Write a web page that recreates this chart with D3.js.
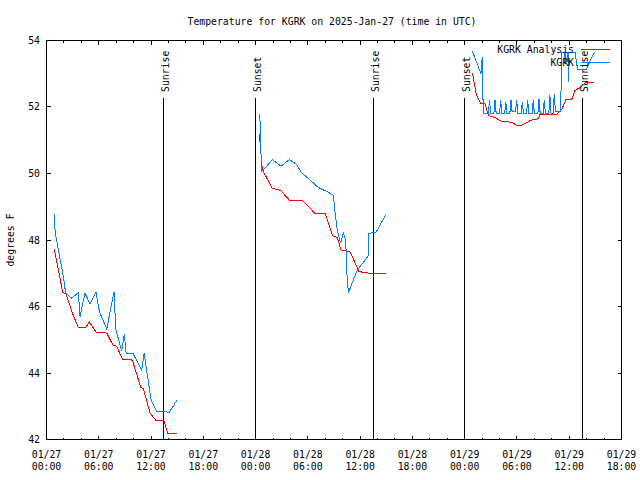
<!DOCTYPE html>
<html>
<head>
<meta charset="utf-8">
<script src="https://cdn.jsdelivr.net/npm/d3@7"></script>
<style>
  body { margin: 0; background: #fff; }
  svg { display: block; }
  text { font-family: "DejaVu Sans Mono", "Liberation Mono", monospace; font-size: 9.8px; fill: #000; }
</style>
</head>
<body>
<svg id="chart" width="640" height="480"></svg>
<script>
// ---- data ----
const titleText = "Temperature for KGRK on 2025-Jan-27 (time in UTC)";
const yLabel = "degrees F";
const yTicks = [42, 44, 46, 48, 50, 52, 54];
const seriesNames = ["KGRK Analysis", "KGRK"];
const seriesColors = ["#ff0000", "#0080ff"];

// KGRK Analysis (red); null marks a gap
const anaTimes = [
  "2025-01-27T00:54","2025-01-27T01:52","2025-01-27T02:14","2025-01-27T02:54","2025-01-27T03:39",
  "2025-01-27T04:30","2025-01-27T04:55","2025-01-27T05:41","2025-01-27T06:55","2025-01-27T07:36",
  "2025-01-27T08:04","2025-01-27T08:45","2025-01-27T09:51","2025-01-27T10:49","2025-01-27T11:07",
  "2025-01-27T11:53","2025-01-27T12:34","2025-01-27T13:29","2025-01-27T13:55","2025-01-27T14:57",
  null,
  "2025-01-28T00:26","2025-01-28T00:46","2025-01-28T01:55","2025-01-28T02:48","2025-01-28T03:11",
  "2025-01-28T03:52","2025-01-28T05:22","2025-01-28T06:49","2025-01-28T07:58","2025-01-28T08:51",
  "2025-01-28T09:23","2025-01-28T09:48","2025-01-28T10:50","2025-01-28T11:52","2025-01-28T12:34",
  "2025-01-28T13:31","2025-01-28T14:56",
  null,
  "2025-01-29T00:53","2025-01-29T01:20","2025-01-29T01:50","2025-01-29T02:20","2025-01-29T02:43",
  "2025-01-29T03:29","2025-01-29T04:15","2025-01-29T05:24","2025-01-29T05:58","2025-01-29T06:33",
  "2025-01-29T07:35","2025-01-29T08:27","2025-01-29T08:39","2025-01-29T10:34","2025-01-29T11:08",
  "2025-01-29T11:38","2025-01-29T12:17","2025-01-29T12:40","2025-01-29T13:14","2025-01-29T13:49",
  "2025-01-29T14:53"
];
const anaTemps = [
  47.72, 46.42, 46.38, 45.85, 45.37,
  45.37, 45.53, 45.23, 45.20, 44.85,
  44.80, 44.40, 44.39, 43.57, 43.53,
  42.80, 42.57, 42.57, 42.17, 42.17,
  null,
  51.20, 50.12, 49.55, 49.50, 49.40,
  49.20, 49.20, 48.80, 48.80, 48.12,
  48.08, 47.70, 47.65, 47.05, 47.02,
  46.98, 46.98,
  null,
  53.03, 52.38, 52.10, 52.10, 51.75,
  51.68, 51.57, 51.54, 51.45, 51.45,
  51.60, 51.65, 51.78, 51.78, 51.92,
  52.23, 52.23, 52.50, 52.58, 52.73,
  52.73
];

// KGRK observations (blue); null marks a gap
const obsTimes = [
  "2025-01-27T00:54","2025-01-27T00:55","2025-01-27T01:03","2025-01-27T01:56","2025-01-27T02:12",
  "2025-01-27T02:54","2025-01-27T03:39","2025-01-27T03:51","2025-01-27T04:25","2025-01-27T05:00",
  "2025-01-27T05:41","2025-01-27T06:04","2025-01-27T06:55","2025-01-27T07:45","2025-01-27T07:57",
  "2025-01-27T08:38","2025-01-27T08:56","2025-01-27T09:08","2025-01-27T09:54","2025-01-27T10:56",
  "2025-01-27T11:12","2025-01-27T12:00","2025-01-27T12:39","2025-01-27T13:13","2025-01-27T14:06",
  "2025-01-27T14:57",
  null,
  "2025-01-28T00:26","2025-01-28T00:35","2025-01-28T00:39","2025-01-28T00:53","2025-01-28T01:55",
  "2025-01-28T02:55","2025-01-28T03:52","2025-01-28T04:43","2025-01-28T05:17","2025-01-28T06:03",
  "2025-01-28T07:12","2025-01-28T08:14","2025-01-28T08:55","2025-01-28T09:12","2025-01-28T09:23",
  "2025-01-28T09:46","2025-01-28T10:04","2025-01-28T10:21","2025-01-28T10:27","2025-01-28T10:39",
  "2025-01-28T11:41","2025-01-28T12:56","2025-01-28T12:59","2025-01-28T13:49","2025-01-28T14:56",
  null,
  "2025-01-29T00:53","2025-01-29T01:52","2025-01-29T02:01","2025-01-29T02:08",
  "2025-01-29T02:43","2025-01-29T02:51","2025-01-29T02:59",
  "2025-01-29T03:21","2025-01-29T03:29","2025-01-29T03:37",
  "2025-01-29T04:00","2025-01-29T04:08","2025-01-29T04:16",
  "2025-01-29T04:35","2025-01-29T04:43","2025-01-29T04:51",
  "2025-01-29T05:11","2025-01-29T05:19","2025-01-29T05:27",
  "2025-01-29T05:50","2025-01-29T05:58","2025-01-29T06:06",
  "2025-01-29T06:29","2025-01-29T06:37","2025-01-29T06:45",
  "2025-01-29T07:06","2025-01-29T07:14","2025-01-29T07:22",
  "2025-01-29T07:44","2025-01-29T07:52","2025-01-29T08:00",
  "2025-01-29T08:24","2025-01-29T08:32","2025-01-29T08:40",
  "2025-01-29T09:00","2025-01-29T09:08","2025-01-29T09:16",
  "2025-01-29T09:39","2025-01-29T09:47","2025-01-29T09:55",
  "2025-01-29T10:09","2025-01-29T10:17","2025-01-29T10:25",
  "2025-01-29T11:01","2025-01-29T11:08","2025-01-29T11:29","2025-01-29T11:31","2025-01-29T11:33",
  "2025-01-29T11:51","2025-01-29T11:53","2025-01-29T11:55","2025-01-29T12:40","2025-01-29T12:58",
  "2025-01-29T13:56","2025-01-29T14:53"
];
const obsTemps = [
  48.78, 48.50, 48.15, 46.90, 46.40,
  46.25, 46.42, 45.70, 46.40, 46.07,
  46.43, 45.85, 45.32, 46.44, 45.32,
  44.65, 45.17, 44.60, 44.60, 44.08,
  44.60, 43.20, 42.84, 42.84, 42.82,
  43.17,
  null,
  51.80, 51.35, 50.05, 50.10, 50.42,
  50.22, 50.42, 50.27, 50.02, 49.85,
  49.58, 49.45, 49.35, 48.65, 48.30,
  47.90, 48.20, 48.00, 47.10, 46.42,
  47.10, 47.52, 48.20, 48.23, 48.75,
  null,
  53.68, 53.00, 53.50, 51.80,
  51.80, 52.20, 51.80,
  51.80, 52.20, 51.80,
  51.80, 52.20, 51.80,
  51.80, 52.15, 51.80,
  51.80, 52.20, 51.85,
  51.85, 52.20, 51.80,
  51.80, 52.15, 51.80,
  51.80, 52.20, 51.80,
  51.80, 52.20, 51.80,
  51.80, 52.25, 51.80,
  51.80, 52.20, 51.80,
  51.80, 52.35, 51.80,
  51.80, 52.40, 51.85,
  51.85, 53.65, 53.65, 53.30, 53.65,
  53.65, 52.75, 53.65, 53.65, 53.12,
  53.12, 53.65
];

const sunLabels = ["Sunrise", "Sunset", "Sunrise", "Sunset", "Sunrise"];
const sunTimes = ["2025-01-27T13:26", "2025-01-27T23:56", "2025-01-28T13:32", "2025-01-28T23:57", "2025-01-29T13:30"];

const xStart = "2025-01-27T00:00", xEnd = "2025-01-29T18:00";

// ---- drawing ----
const parse = d3.utcParse("%Y-%m-%dT%H:%M");
const svg = d3.select("#chart");
svg.append("rect").attr("width", 640).attr("height", 480).attr("fill", "#fff");

const L = 46.5, R = 621.5, T = 40.5, B = 439.5;
const x = d3.scaleUtc().domain([parse(xStart), parse(xEnd)]).range([L, R]);
const y = d3.scaleLinear().domain([42, 54]).range([B, T]);
const snap = v => Math.round(v - 0.5) + 0.5;

// title
svg.append("text").attr("x", 332).attr("y", 25).attr("text-anchor", "middle").text(titleText);

// y label
svg.append("text").attr("transform", "translate(14,240) rotate(-90)")
  .attr("text-anchor", "middle").text(yLabel);

const ax = svg.append("g").attr("stroke", "#000").attr("stroke-width", 1).attr("shape-rendering", "crispEdges");

// y ticks (left and right, inward)
yTicks.forEach(v => {
  const yy = snap(y(v));
  ax.append("line").attr("x1", L).attr("x2", L + 4).attr("y1", yy).attr("y2", yy);
  ax.append("line").attr("x1", R).attr("x2", R - 4).attr("y1", yy).attr("y2", yy);
  svg.append("text").attr("x", 40).attr("y", yy).attr("dy", "0.35em")
    .attr("text-anchor", "end").text(v);
});

// x ticks
const majors = x.ticks(d3.utcHour.every(6));
const minors = x.ticks(d3.utcHour.every(2));
minors.forEach(d => {
  const xx = snap(x(d));
  const len = (d.getUTCHours() % 6 === 0) ? 4 : 2;
  ax.append("line").attr("x1", xx).attr("x2", xx).attr("y1", B).attr("y2", B - len);
  ax.append("line").attr("x1", xx).attr("x2", xx).attr("y1", T).attr("y2", T + len);
});
const fDate = d3.utcFormat("%m/%d"), fTime = d3.utcFormat("%H:%M");
majors.forEach(d => {
  const xx = x(d);
  const t = svg.append("text").attr("text-anchor", "middle");
  t.append("tspan").attr("x", xx).attr("y", 458).text(fDate(d));
  t.append("tspan").attr("x", xx).attr("y", 470).text(fTime(d));
});

// sunrise / sunset lines
sunTimes.forEach((s, i) => {
  const xx = snap(x(parse(s)));
  ax.append("line").attr("x1", xx).attr("x2", xx).attr("y1", 98).attr("y2", B);
  svg.append("text").attr("transform", `translate(${xx + 5},92) rotate(-90)`)
    .attr("text-anchor", "start").text(sunLabels[i]);
});

// border
ax.append("rect").attr("x", L).attr("y", T).attr("width", R - L).attr("height", B - T).attr("fill", "none");

// series
function toPts(times, temps) {
  return times.map((t, i) => ({ t: t ? parse(t) : null, v: temps[i] }));
}
const line = d3.line().defined(d => d.t !== null && d.v !== null).x(d => x(d.t)).y(d => y(d.v));
const series = [toPts(anaTimes, anaTemps), toPts(obsTimes, obsTemps)];
series.forEach((pts, i) => {
  svg.append("path").datum(pts).attr("d", line).attr("fill", "none")
    .attr("stroke", seriesColors[i]).attr("stroke-width", 1).attr("shape-rendering", "crispEdges");
});

// legend
const legY = [49.5, 62.5];
seriesNames.forEach((n, i) => {
  svg.append("text").attr("x", 574).attr("y", legY[i]).attr("dy", "0.35em")
    .attr("text-anchor", "end").text(n);
  svg.append("line").attr("x1", 581).attr("x2", 610).attr("y1", legY[i]).attr("y2", legY[i])
    .attr("stroke", seriesColors[i]).attr("stroke-width", 1).attr("shape-rendering", "crispEdges");
});
</script>
</body>
</html>
